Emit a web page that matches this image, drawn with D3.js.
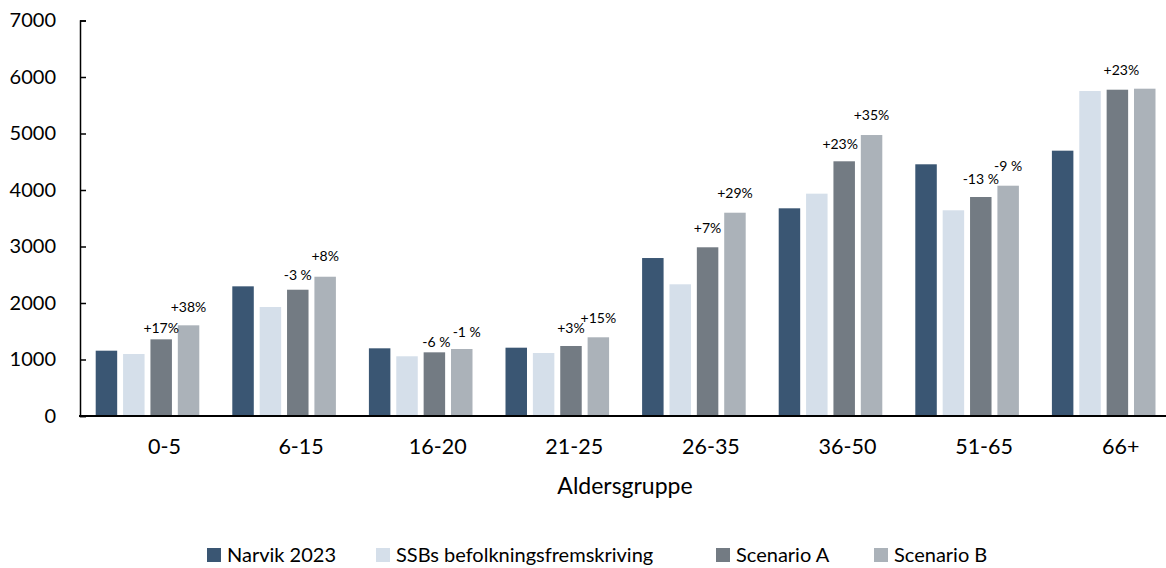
<!DOCTYPE html>
<html>
<head>
<meta charset="utf-8">
<script src="https://cdn.jsdelivr.net/npm/d3@7"></script>
<style>
  html, body { margin: 0; padding: 0; background: #ffffff; }
  svg { display: block; font-family: Lato, "Noto Sans", sans-serif; }
</style>
</head>
<body>
<svg id="chart" width="1166" height="568"></svg>
<script>
// ---- Data ----
const categories = ["0-5", "6-15", "16-20", "21-25", "26-35", "36-50", "51-65", "66+"];
const seriesNames = ["Narvik 2023", "SSBs befolkningsfremskriving", "Scenario A", "Scenario B"];
const narvik2023 = [1156, 2295, 1198, 1209, 2796, 3676, 4455, 4696];
const ssb        = [1097, 1929, 1057, 1115, 2331, 3935, 3641, 5752];
const scenarioA  = [1357, 2235, 1127, 1239, 2986, 4508, 3876, 5775];
const scenarioB  = [1605, 2465, 1186, 1393, 3598, 4973, 4076, 5793];
const labelsA = ["+17%", "-3 %", "-6 %", "+3%", "+7%", "+23%", "-13 %", "+23%"];
const labelsB = ["+38%", "+8%", "-1 %", "+15%", "+29%", "+35%", "-9 %", ""];
const yTicks = [0, 1000, 2000, 3000, 4000, 5000, 6000, 7000];

// ---- Styling config (label nudges, colours) ----
const colors = ["#3A5673", "#D5DFEA", "#737B83", "#ABB2B9"];
const liftA = [12, 15, 11, 18, 20, 18, 19, 20];
const liftB = [19, 21, 17, 20, 20, 21, 20, 20];
const shiftA = [0, 0, 2, 0, 0, -4, 0, 4];
const shiftB = [0, 0, 5, 0, 0, 0, 0, 0];

const seriesValues = [narvik2023, ssb, scenarioA, scenarioB];

const svg = d3.select("#chart");
const W = 1166, H = 568;

const x0 = d3.scaleBand()
  .domain(categories)
  .range([79.2, 1172])
  .paddingInner(0.2416)
  .paddingOuter(0.1208);

const x1 = d3.scaleBand()
  .domain(d3.range(seriesNames.length))
  .range([0, x0.bandwidth()])
  .paddingInner(0.215)
  .paddingOuter(0);

const y = d3.scaleLinear().domain([0, 7000]).range([416, 20.5]);

// Bars
const groups = svg.append("g").selectAll("g")
  .data(categories)
  .join("g")
  .attr("transform", d => `translate(${x0(d)},0)`);

groups.selectAll("rect")
  .data((d, i) => seriesValues.map((s, k) => ({ k, v: s[i] })))
  .join("rect")
  .attr("x", d => x1(d.k))
  .attr("width", x1.bandwidth())
  .attr("y", d => y(d.v))
  .attr("height", d => y(0) - y(d.v))
  .attr("fill", d => colors[d.k]);

// Percentage labels
const lbl = svg.append("g")
  .attr("font-size", 14)
  .attr("fill", "#000")
  .attr("text-anchor", "middle")
  .attr("dominant-baseline", "central");

categories.forEach((c, i) => {
  if (labelsA[i]) {
    lbl.append("text")
      .attr("x", x0(c) + x1(2) + x1.bandwidth() / 2 + shiftA[i])
      .attr("y", y(scenarioA[i]) - liftA[i])
      .text(labelsA[i]);
  }
  if (labelsB[i]) {
    lbl.append("text")
      .attr("x", x0(c) + x1(3) + x1.bandwidth() / 2 + shiftB[i])
      .attr("y", y(scenarioB[i]) - liftB[i])
      .text(labelsB[i]);
  }
});

// Y axis
const yAxis = d3.axisLeft(y).tickValues(yTicks).tickSize(-6).tickPadding(30).tickFormat(d3.format("d"));
const gy = svg.append("g").attr("transform", "translate(80,0)").call(yAxis);
gy.select(".domain").attr("stroke", "#000").attr("stroke-width", 1.5);
gy.selectAll(".tick line").attr("stroke", "#000").attr("stroke-width", 1.5);
gy.selectAll(".tick text")
  .attr("font-size", 20)
  .attr("font-family", "Lato, sans-serif")
  .attr("fill", "#000")
  .attr("x", -24);

// X axis line
svg.append("line")
  .attr("x1", 79).attr("x2", W)
  .attr("y1", y(0)).attr("y2", y(0))
  .attr("stroke", "#000").attr("stroke-width", 2.2);

// X category labels
svg.append("g").selectAll("text")
  .data(categories)
  .join("text")
  .attr("x", d => x0(d) + x0.bandwidth() / 2 + 17)
  .attr("y", 454)
  .attr("text-anchor", "middle")
  .attr("font-size", 21.5)
  .attr("fill", "#000")
  .text(d => d);

// X axis title
svg.append("text")
  .attr("x", 625)
  .attr("y", 494)
  .attr("text-anchor", "middle")
  .attr("font-size", 23)
  .attr("fill", "#000")
  .text("Aldersgruppe");

// Legend
const legendX = [207, 376, 716, 874];
const leg = svg.append("g");
seriesNames.forEach((n, k) => {
  leg.append("rect")
    .attr("x", legendX[k]).attr("y", 548)
    .attr("width", 14).attr("height", 14)
    .attr("fill", colors[k]);
  leg.append("text")
    .attr("x", legendX[k] + 20).attr("y", 562)
    .attr("font-size", 20)
    .attr("fill", "#000")
    .text(n);
});
</script>
</body>
</html>
